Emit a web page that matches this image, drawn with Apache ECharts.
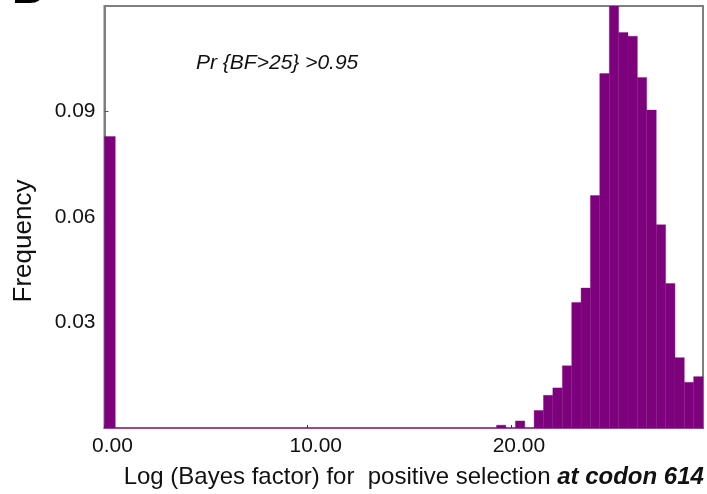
<!DOCTYPE html>
<html>
<head>
<meta charset="utf-8">
<script src="https://cdn.jsdelivr.net/npm/echarts@6/dist/echarts.min.js"></script>
<style>
  html, body { margin: 0; padding: 0; background: #ffffff; }
  #chart { width: 707px; height: 494px; }
</style>
</head>
<body>
<div id="chart"></div>
<script>
// Histogram bins: lower / upper edge on the Log(BF) axis and the relative frequency.
const binLo = [0.00, 19.29, 20.22, 21.14, 21.60, 22.06, 22.53, 22.99, 23.45, 23.91, 24.37,
               24.84, 25.30, 25.76, 26.22, 26.68, 27.15, 27.61, 28.07, 28.53, 28.99];
const binHi = [0.53, 19.75, 20.68, 21.60, 22.06, 22.53, 22.99, 23.45, 23.91, 24.37, 24.84,
               25.30, 25.76, 26.22, 26.68, 27.15, 27.61, 28.07, 28.53, 28.99, 29.45];
const freq  = [0.0829, 0.0008, 0.0020, 0.0050, 0.0093, 0.0114, 0.0177, 0.0357, 0.0398, 0.0661, 0.1008,
               0.1240, 0.1125, 0.1114, 0.0997, 0.0904, 0.0578, 0.0411, 0.0200, 0.0130, 0.0146];

// Axis settings
const xMin = 0, xMax = 29.45, xStep = 10;
const yMin = 0, yMax = 0.12, yStep = 0.03;
const xTickLabels = ['0.00', '10.00', '20.00'];
const yTickLabels = ['0.03', '0.06', '0.09'];

const xTitle = 'Log (Bayes factor) for  positive selection ';
const xTitleBold = 'at codon 614';
const yTitle = 'Frequency';
const note = 'Pr {BF>25} >0.95';
const panelLetter = 'B';

const FONT = '"Liberation Sans", Arial, Helvetica, sans-serif';
const BAR = '#7d007d';

const bins = binLo.map((lo, i) => [lo, binHi[i], freq[i]]);

const chart = echarts.init(document.getElementById('chart'), null, { renderer: 'canvas' });

chart.setOption({
  animation: false,
  backgroundColor: '#ffffff',
  grid: {
    left: 104.5, right: 4, top: 6, bottom: 60,
    show: true, borderColor: '#7f7f7f', borderWidth: 2, backgroundColor: 'transparent'
  },
  xAxis: {
    type: 'value', min: xMin, max: xMax, interval: xStep,
    axisLine: { show: true, onZero: false, lineStyle: { color: '#94489a', width: 2 } },
    axisTick: { show: true, inside: true, length: 3, lineStyle: { color: '#333', width: 1 } },
    splitLine: { show: false },
    axisLabel: {
      show: true, showMaxLabel: false, margin: 8,
      fontFamily: FONT, fontSize: 21, color: '#111',
      padding: [0, 0, 0, 16],
      formatter: (v) => {
        const i = Math.round(v / xStep);
        return xTickLabels[i] !== undefined ? xTickLabels[i] : '';
      }
    },
    name: '{r|' + xTitle + '}{b|' + xTitleBold + '}',
    nameLocation: 'middle', nameGap: 37,
    nameTextStyle: {
      padding: [0, 0, 0, 20],
      rich: {
        r: { fontFamily: FONT, fontSize: 24, color: '#111' },
        b: { fontFamily: FONT, fontSize: 24, color: '#111', fontWeight: 'bold', fontStyle: 'italic' }
      }
    }
  },
  yAxis: {
    type: 'value', min: yMin, max: yMax, interval: yStep,
    axisLine: { show: true, lineStyle: { color: '#7f7f7f', width: 2 } },
    axisTick: { show: true, inside: true, length: 4, lineStyle: { color: '#555', width: 1 } },
    splitLine: { show: false },
    axisLabel: {
      show: true, showMinLabel: false, showMaxLabel: false, margin: 9,
      fontFamily: FONT, fontSize: 21, color: '#111',
      formatter: (v) => {
        const i = Math.round(v / yStep) - 1;
        return yTickLabels[i] !== undefined ? yTickLabels[i] : '';
      }
    },
    name: yTitle, nameLocation: 'middle', nameRotate: 90, nameGap: 68,
    nameTextStyle: { fontFamily: FONT, fontSize: 26, color: '#111', padding: [0, 48, 0, 0] }
  },
  series: [{
    type: 'custom',
    clip: true,
    data: bins,
    encode: { x: [0, 1], y: 2 },
    renderItem: (params, api) => {
      const p0 = api.coord([api.value(0), 0]);
      const p1 = api.coord([api.value(1), api.value(2)]);
      const rect = echarts.graphic.clipRectByRect(
        { x: p0[0], y: p1[1], width: p1[0] - p0[0], height: p0[1] - p1[1] },
        { x: params.coordSys.x, y: params.coordSys.y,
          width: params.coordSys.width, height: params.coordSys.height }
      );
      return rect && {
        type: 'rect',
        shape: rect,
        style: { fill: BAR, stroke: '#841484', lineWidth: 0.4 }
      };
    },
    z: 1
  }],
  graphic: [
    {
      type: 'text', left: 196, top: 53,
      style: { text: note, font: 'italic 21px ' + FONT, fill: '#111' }
    },
    {
      type: 'text', left: 12, top: -31,
      style: { text: panelLetter, font: 'bold 44px ' + FONT, fill: '#000' }
    }
  ]
});
</script>
</body>
</html>
